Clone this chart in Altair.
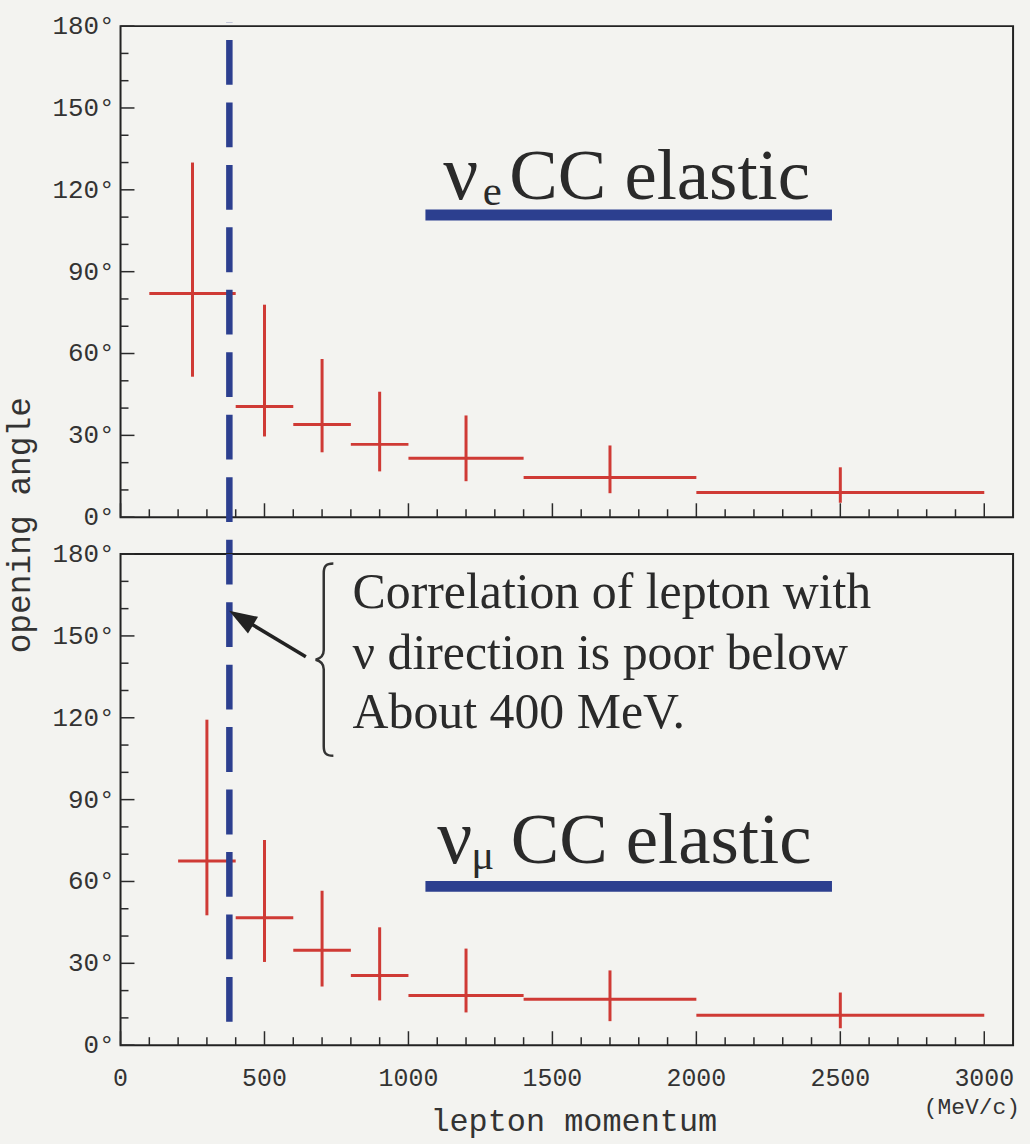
import altair as alt
import pandas as pd

# ---------------- data ----------------
# nu_e CC elastic : momentum bins (MeV/c), mean opening angle and spread (deg)
e_lo = [100, 400, 600, 800, 1000, 1400, 2000]
e_hi = [400, 600, 800, 1000, 1400, 2000, 3000]
e_center = [250, 500, 700, 900, 1200, 1700, 2500]
e_angle = [82.0, 40.6, 34.0, 26.7, 21.6, 14.6, 9.1]
e_err_lo = [51.5, 29.6, 23.8, 16.8, 13.2, 8.8, 5.3]
e_err_hi = [130.0, 77.9, 58.0, 46.0, 37.3, 26.3, 18.3]

# nu_mu CC elastic
mu_lo = [200, 400, 600, 800, 1000, 1400, 2000]
mu_hi = [400, 600, 800, 1000, 1400, 2000, 3000]
mu_center = [300, 500, 700, 900, 1200, 1700, 2500]
mu_angle = [67.5, 46.7, 34.8, 25.5, 18.2, 16.8, 11.0]
mu_err_lo = [47.6, 30.5, 21.5, 16.4, 12.0, 8.8, 6.2]
mu_err_hi = [119.3, 75.2, 56.6, 43.2, 35.4, 27.4, 19.3]

x_major = [0, 500, 1000, 1500, 2000, 2500, 3000]
x_minor = [v for v in range(0, 3001, 100) if v % 500]
y_major = [0, 30, 60, 90, 120, 150, 180]
y_minor = [v for v in range(0, 181, 10) if v % 30]
x_tick_labels = [str(v) for v in x_major]
y_tick_labels = [f"{v}\u00b0" for v in y_major]

cut_momentum = 378
note_lines = ["Correlation of lepton with", "\u03bd direction is poor below", "About 400 MeV."]
note_y = [160.3, 138.0, 116.1]

# ---------------- style ----------------
RED = "#cf3a35"
BLUE = "#2c3f8f"
INK = "#2a2a2a"
BG = "#f3f3f0"
MONO = "Liberation Mono"
SERIF = "Liberation Serif"
W, H = 896, 493

xs = alt.Scale(domain=[0, 3100], nice=False, zero=False)
ys = alt.Scale(domain=[0, 180], nice=False, zero=False)


def X(f):
    return alt.X(f, scale=xs, axis=None)


def Y(f):
    return alt.Y(f, scale=ys, axis=None)


def text_layer(df, align="left"):
    return alt.Chart(df).mark_text(font=SERIF, align=align, baseline="alphabetic",
                                   color=INK).encode(
        x=X("x:Q"), y=Y("y:Q"), text="t:N",
        size=alt.Size("fs:Q", scale=None, legend=None),
    )


def panel(lo, hi, center, angle, elo, ehi, label_df, bar_df, dash_df, dash_offset,
          show_x, extras):
    df = pd.DataFrame(dict(lo=lo, hi=hi, center=center, angle=angle, elo=elo, ehi=ehi))
    hbar = alt.Chart(df).mark_rule(color=RED, strokeWidth=3).encode(
        x=X("lo:Q"), x2="hi:Q", y=Y("angle:Q"))
    vbar = alt.Chart(df).mark_rule(color=RED, strokeWidth=3).encode(
        x=X("center:Q"), y=Y("elo:Q"), y2="ehi:Q")
    dash = alt.Chart(dash_df).mark_rule(color=BLUE, strokeWidth=6.5,
                                        strokeDash=[45, 17.7],
                                        strokeDashOffset=dash_offset).encode(
        x=X("x:Q"), y=Y("y:Q"), y2="y2:Q")
    xt_minor = alt.Chart(pd.DataFrame({"v": x_minor})).mark_rule(
        color=INK, strokeWidth=1.5).encode(
        x=X("v:Q"), y=alt.value(H), y2=alt.value(H - 8))
    xt_major = alt.Chart(pd.DataFrame({"v": x_major})).mark_rule(
        color=INK, strokeWidth=1.5).encode(
        x=X("v:Q"), y=alt.value(H), y2=alt.value(H - 14))
    yt_minor = alt.Chart(pd.DataFrame({"v": y_minor})).mark_rule(
        color=INK, strokeWidth=1.5).encode(
        y=Y("v:Q"), x=alt.value(0), x2=alt.value(8))
    yt_major = alt.Chart(pd.DataFrame({"v": y_major})).mark_rule(
        color=INK, strokeWidth=1.5).encode(
        y=Y("v:Q"), x=alt.value(0), x2=alt.value(14))
    y_labels = alt.Chart(pd.DataFrame({"v": y_major, "t": y_tick_labels})).mark_text(
        font=MONO, fontSize=26, align="right", baseline="middle", color="#333").encode(
        y=Y("v:Q"), x=alt.value(-6), text="t:N")
    bar = alt.Chart(bar_df).mark_rule(color=BLUE, strokeWidth=11).encode(
        x=X("x:Q"), x2="x2:Q", y=Y("y:Q"))
    labels = text_layer(label_df)
    layers = [hbar, vbar, xt_minor, xt_major, yt_minor, yt_major, y_labels, dash, bar,
              labels]
    if show_x:
        x_labels = alt.Chart(pd.DataFrame({"v": x_major, "t": x_tick_labels})).mark_text(
            font=MONO, fontSize=25, align="center", baseline="top", color="#333").encode(
            x=X("v:Q"), y=alt.value(H + 21), text="t:N")
        layers.append(x_labels)
    layers += extras
    return alt.layer(*layers).properties(width=W, height=H)


one = pd.DataFrame({"a": [0]})

# ---- top panel ----
top_label = pd.DataFrame({
    "x": [1121, 1258, 1350],
    "y": [116.8, 114.3, 116.8],
    "t": ["\u03bd", "e", "CC elastic"],
    "fs": [78, 43, 73],
})
top_bar = pd.DataFrame({"x": [1059], "x2": [2471], "y": [110.8]})
top_dash = pd.DataFrame({"x": [cut_momentum], "y": [181.5], "y2": [-13.5]})
y_title = alt.Chart(one).mark_text(font=MONO, fontSize=33, angle=270, align="center",
                                   baseline="alphabetic", color="#333").encode(
    x=alt.value(-91), y=alt.value(501), text=alt.value("opening angle"))
anchor = alt.Chart(one).mark_point(opacity=0, size=1, shape="square").encode(
    x=alt.value(-119), y=alt.value(-22))

top = panel(e_lo, e_hi, e_center, e_angle, e_err_lo, e_err_hi, top_label, top_bar,
            top_dash, 44.7, False, [y_title, anchor])

# ---- bottom panel ----
bot_label = pd.DataFrame({
    "x": [1100, 1218, 1355],
    "y": [66.8, 64.6, 66.8],
    "t": ["\u03bd", "\u03bc", "CC elastic"],
    "fs": [78, 43, 73],
})
bot_bar = pd.DataFrame({"x": [1059], "x2": [2471], "y": [58.2]})
bot_dash = pd.DataFrame({"x": [cut_momentum], "y": [180.0], "y2": [2.9]})

note_df = pd.DataFrame({"x": [806] * 3, "y": note_y, "t": note_lines, "fs": [50] * 3})
notes = text_layer(note_df)

arrow_df = pd.DataFrame({"x": [643.6], "y": [142.4], "x2": [422.0], "y2": [156.4]})
arrow_line = alt.Chart(arrow_df).mark_rule(color="#222", strokeWidth=3.5).encode(
    x=X("x:Q"), x2="x2:Q", y=Y("y:Q"), y2="y2:Q")
head_df = pd.DataFrame({"x": [377.1], "y": [159.2]})
arrow_head = alt.Chart(head_df).mark_point(
    shape="M 0 0 L 2 -0.7 L 2 0.7 Z", size=784, angle=31, filled=True,
    color="#222", opacity=1).encode(x=X("x:Q"), y=Y("y:Q"))

brace_df = pd.DataFrame({"x": [705.8], "y": [141.3]})
brace_path = ("M 0.1 -1 C 0.02 -1 0 -0.97 0 -0.9 L 0 -0.1 C 0 -0.04 -0.04 -0.01 -0.085 0 "
              "C -0.04 0.01 0 0.04 0 0.1 L 0 0.9 C 0 0.97 0.02 1 0.1 1")
brace = alt.Chart(brace_df).mark_point(
    shape=brace_path, size=37249, filled=False, strokeWidth=2.5, color="#333",
    opacity=1).encode(x=X("x:Q"), y=Y("y:Q"))

x_title = alt.Chart(one).mark_text(font=MONO, fontSize=32, align="center",
                                   baseline="alphabetic", color="#333").encode(
    x=alt.value(455), y=alt.value(579), text=alt.value("lepton momentum"))
x_unit = alt.Chart(one).mark_text(font=MONO, fontSize=23, align="right",
                                  baseline="alphabetic", color="#333").encode(
    x=alt.value(903), y=alt.value(562), text=alt.value("(MeV/c)"))
anchor_br = alt.Chart(one).mark_point(opacity=0, size=1, shape="square").encode(
    x=alt.value(1030 - 119), y=alt.value(1144 - 552))

bottom = panel(mu_lo, mu_hi, mu_center, mu_angle, mu_err_lo, mu_err_hi, bot_label,
               bot_bar, bot_dash, 14.4, True,
               [notes, arrow_line, arrow_head, brace, x_title, x_unit, anchor_br])

chart = alt.vconcat(top, bottom, spacing=37, bounds="flush").properties(
    padding=0, background=BG
).configure_view(stroke="#222", strokeWidth=2)

chart.save("out.html", embed_options={"renderer": "svg", "actions": False})
